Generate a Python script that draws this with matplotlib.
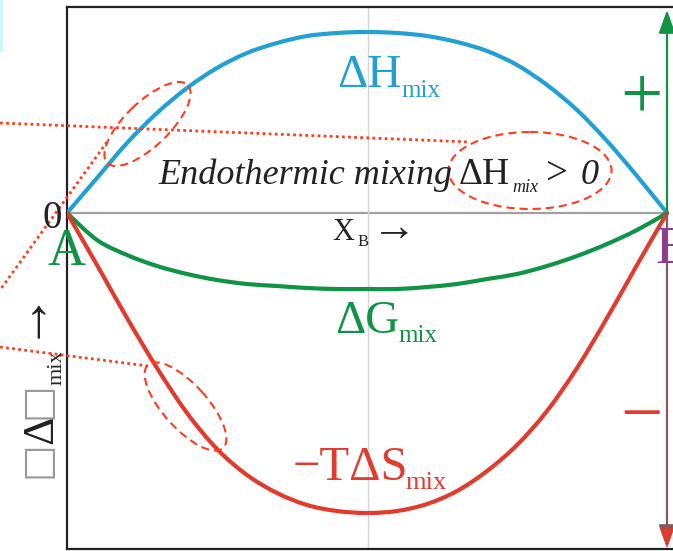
import matplotlib
matplotlib.use('Agg')
import matplotlib.pyplot as plt
from matplotlib.patches import Ellipse, Rectangle, PathPatch
from matplotlib.path import Path

plt.rcParams['font.family'] = ['Liberation Serif', 'DejaVu Sans']

# mole fraction of B and the three mixing curves (arbitrary units)
xb = [0.00, 0.05, 0.10, 0.15, 0.20, 0.25, 0.30, 0.35, 0.40, 0.45, 0.50,
      0.55, 0.60, 0.65, 0.70, 0.75, 0.80, 0.85, 0.90, 0.95, 1.00]
dh_mix = [0, 0.35, 0.70, 1.00, 1.25, 1.45, 1.60, 1.70, 1.77, 1.80, 1.81,
          1.80, 1.77, 1.71, 1.62, 1.48, 1.28, 1.03, 0.72, 0.37, 0]
dg_mix = [0, -0.27, -0.42, -0.53, -0.61, -0.67, -0.71, -0.73, -0.75, -0.76, -0.76,
          -0.76, -0.74, -0.71, -0.66, -0.61, -0.53, -0.43, -0.31, -0.17, 0]
tds_mix = [0, -0.52, -1.05, -1.55, -2.00, -2.36, -2.62, -2.80, -2.92, -2.98, -3.00,
           -2.98, -2.91, -2.78, -2.58, -2.32, -1.98, -1.55, -1.05, -0.52, 0]

blue = '#22a0d6'
green = '#0e9444'
red = '#e23a2c'
mark = '#ff3c1e'
ink = '#222222'


def smooth_path(xs, ys):
    # curve through the read points, drawn as cubic Bezier segments
    pts = list(zip(xs, ys))
    verts = [pts[0]]
    codes = [Path.MOVETO]
    for i in range(len(pts) - 1):
        p0 = pts[max(i - 1, 0)]
        p1 = pts[i]
        p2 = pts[i + 1]
        p3 = pts[min(i + 2, len(pts) - 1)]
        c1 = (p1[0] + (p2[0] - p0[0]) / 6, p1[1] + (p2[1] - p0[1]) / 6)
        c2 = (p2[0] - (p3[0] - p1[0]) / 6, p2[1] - (p3[1] - p1[1]) / 6)
        verts += [c1, c2, p2]
        codes += [Path.CURVE4] * 3
    return Path(verts, codes)


W, H = 673, 551
fig = plt.figure(figsize=(W / 100, H / 100), dpi=100)
fig.patch.set_facecolor('white')

ax = fig.add_axes([67 / W, (H - 549) / H, 606 / W, 542 / H])
ax.set_xlim(0, 1.01)
ax.set_ylim(-3.36, 2.06)
for s in ['left', 'bottom', 'top']:
    ax.spines[s].set_linewidth(1.6)
    ax.spines[s].set_color(ink)
ax.spines['right'].set_visible(False)
ax.set_xticks([])
ax.set_yticks([])

# guide lines
ax.plot([0, 1], [0, 0], color='#a0a0a0', lw=1.6, zorder=1)
ax.axvline(0.502, color='#d4d4d4', lw=1.0, zorder=1)

# curves
for ys, c in [(dh_mix, blue), (dg_mix, green), (tds_mix, red)]:
    ax.add_patch(PathPatch(smooth_path(xb, ys), fill=False, ec=c, lw=3, zorder=3,
                           joinstyle='round', capstyle='round'))

# sign arrows on the right
ax.annotate('', xy=(1.0, 2.03), xytext=(1.0, 0),
            arrowprops=dict(arrowstyle='-|>,head_length=1.4,head_width=0.5', mutation_scale=10,
                            color=green, lw=1.6, shrinkA=0, shrinkB=0), annotation_clip=False)
ax.annotate('', xy=(1.0, -3.35), xytext=(1.0, 0),
            arrowprops=dict(arrowstyle='-|>,head_length=1.4,head_width=0.5', mutation_scale=10,
                            color='#855a5a', lw=1.6, shrinkA=0, shrinkB=0), annotation_clip=False)
ax.annotate('', xy=(1.0, -3.35), xytext=(1.0, -3.0),
            arrowprops=dict(arrowstyle='-|>,head_length=1.4,head_width=0.5', mutation_scale=10,
                            color=red, lw=0, shrinkA=0, shrinkB=0), annotation_clip=False)

# overlay in pixel coordinates for labels and hand-drawn marks
ov = fig.add_axes([0, 0, 1, 1], facecolor='none')
ov.set_xlim(0, W)
ov.set_ylim(H, 0)
ov.axis('off')
ov.set_zorder(5)

ov.add_patch(Rectangle((0, 0), 3, 52, color='#cdf6fa', lw=0))

# curve names
ov.text(337, 87, 'ΔH', color=blue, fontsize=34, va='baseline')
ov.text(401, 97, 'mix', color=blue, fontsize=18, va='baseline')
ov.text(335, 333, 'ΔG', color=green, fontsize=34, va='baseline')
ov.text(398, 342, 'mix', color=green, fontsize=18, va='baseline')
ov.text(293, 480, '−TΔS', color=red, fontsize=35, va='baseline')
ov.text(405, 489, 'mix', color=red, fontsize=19, va='baseline')

# endothermic note
ov.text(158, 184, 'Endothermic mixing', style='italic', color=ink, fontsize=26, va='baseline')
ov.text(459, 184, 'ΔH', color=ink, fontsize=27, va='baseline')
ov.text(512, 192, 'mix', style='italic', color=ink, fontsize=13, va='baseline')
ov.text(546, 184, '>', color=ink, fontsize=28, va='baseline')
ov.text(581, 184, '0', style='italic', color=ink, fontsize=26, va='baseline')

# axis words
ov.text(332, 240, 'X', color=ink, fontsize=22, va='baseline')
ov.text(358, 246, 'B', color=ink, fontsize=12, va='baseline')
ov.text(372, 240, '→', color=ink, fontsize=32, va='baseline')
ov.text(62, 228, '0', color=ink, fontsize=28, ha='right', va='baseline')
ov.text(67, 265, 'A', color=green, fontsize=38, ha='center', va='baseline')
ov.text(655, 263, 'B', color='#8e3c8e', fontsize=38, ha='left', va='baseline')
ov.text(641, 117, '+', color=green, fontsize=54, ha='center', va='baseline')
ov.text(641, 437, '−', color=red, fontsize=54, ha='center', va='baseline')

# rotated y label
ov.text(47, 460, '□', family=['DejaVu Sans'], color='#999999', fontsize=28,
        rotation=90, rotation_mode='anchor', ha='center', va='baseline')
ov.text(52, 430, 'Δ', color=ink, fontsize=32,
        rotation=90, rotation_mode='anchor', ha='center', va='baseline')
ov.text(47, 401, '□', family=['DejaVu Sans'], color='#999999', fontsize=28,
        rotation=90, rotation_mode='anchor', ha='center', va='baseline')
ov.text(62, 368, 'mix', color=ink, fontsize=16,
        rotation=90, rotation_mode='anchor', ha='center', va='baseline')
ov.text(38, 310, '→', color=ink, fontsize=40,
        rotation=90, rotation_mode='anchor', ha='center', va='baseline')

# dashed ellipses and dotted leaders
dash = (0, (3.9, 2.4))
ov.add_patch(Ellipse((147.5, 124), 112, 44, angle=-44, fill=False, ec=mark, lw=1.5, ls=dash))
ov.add_patch(Ellipse((185.5, 406.5), 112, 44, angle=48, fill=False, ec=mark, lw=1.5, ls=dash))
ov.add_patch(Ellipse((530, 170.5), 163, 77, fill=False, ec=mark, lw=1.5, ls=dash))

dot = (0, (1, 1.2))
ov.plot([0, 470], [123, 142], color=mark, lw=2, ls=dot)
ov.plot([107, 0], [142, 290], color=mark, lw=2, ls=dot)
ov.plot([0, 148], [347, 366], color=mark, lw=2, ls=dot)

fig.savefig('out.png', dpi=100)
